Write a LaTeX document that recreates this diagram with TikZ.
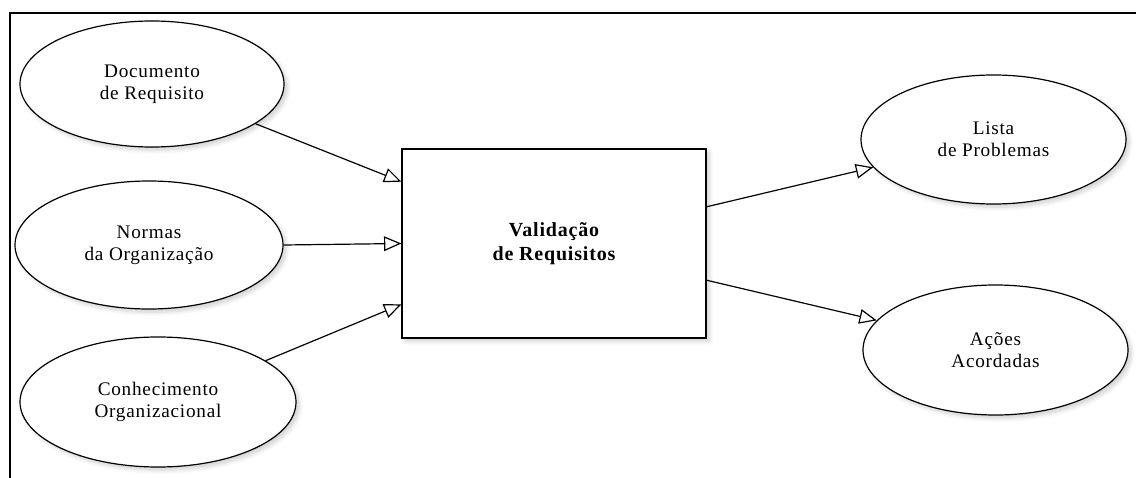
\documentclass[tikz,border=0pt]{standalone}
\usepackage{fontspec}
\setmainfont{Liberation Serif}
\newfontfamily\lblfont{Liberation Serif}[LetterSpace=4]
\usetikzlibrary{shapes.geometric,arrows.meta,calc,shadows.blur}
\begin{document}
\begin{tikzpicture}[x=0.75pt, y=-0.75pt,
  softshadow/.style={blur shadow={shadow xshift=2.5pt, shadow yshift=-2.5pt,
      shadow blur steps=6, shadow blur radius=3pt, shadow opacity=18}},
  data/.style={ellipse, draw, line width=0.9pt, fill=white, inner sep=0pt,
      align=center, softshadow,
      font=\lblfont\fontsize{14.4}{16.5}\selectfont},
  process/.style={rectangle, draw, line width=0.9pt, fill=white, inner sep=0pt,
      align=center, softshadow, minimum width=228pt, minimum height=141.75pt,
      font=\lblfont\bfseries\fontsize{15}{17.5}\selectfont},
  flow/.style={line width=0.9pt, -{Triangle[open, length=13pt, width=11pt]}},
  frame/.style={line width=1.5pt}]
\useasboundingbox (0,0) rectangle (1136,478);

% outer frame (top and left edges)
\coordinate (ftr) at (1136,13);
\coordinate (ftl) at (10,13);
\coordinate (fbl) at (10,478);
\draw[frame] (ftr) -- (ftl) -- (fbl);

% inputs
\node[data, minimum width=198pt, minimum height=94.5pt] (doc) at (152,84)
  {Documento\\de Requisito};
\node[data, minimum width=201pt, minimum height=96pt] (norm) at (149,245)
  {Normas\\da Organização};
\node[data, minimum width=207pt, minimum height=97.5pt] (con) at (158,402)
  {Conhecimento\\Organizacional};

% process
\node[process] (val) at (554,243.5) {Validação\\de Requisitos};

% outputs
\node[data, minimum width=198.75pt, minimum height=96.75pt] (lst) at (993.5,139.5)
  {Lista\\de Problemas};
\node[data, minimum width=198.75pt, minimum height=97.5pt] (aco) at (995.5,350)
  {Ações\\Acordadas};

% connectors
\draw[flow] (doc.-21) -- ($(val.north west)!0.175!(val.south west)$);
\draw[flow] (norm.east) -- (val.west);
\draw[flow] (con.21.5) -- ($(val.north west)!0.82!(val.south west)$);
\draw[flow] ($(val.north east)!0.307!(val.south east)$) -- (lst.-167);
\draw[flow] ($(val.north east)!0.693!(val.south east)$) -- (aco.166.6);
\end{tikzpicture}
\end{document}
